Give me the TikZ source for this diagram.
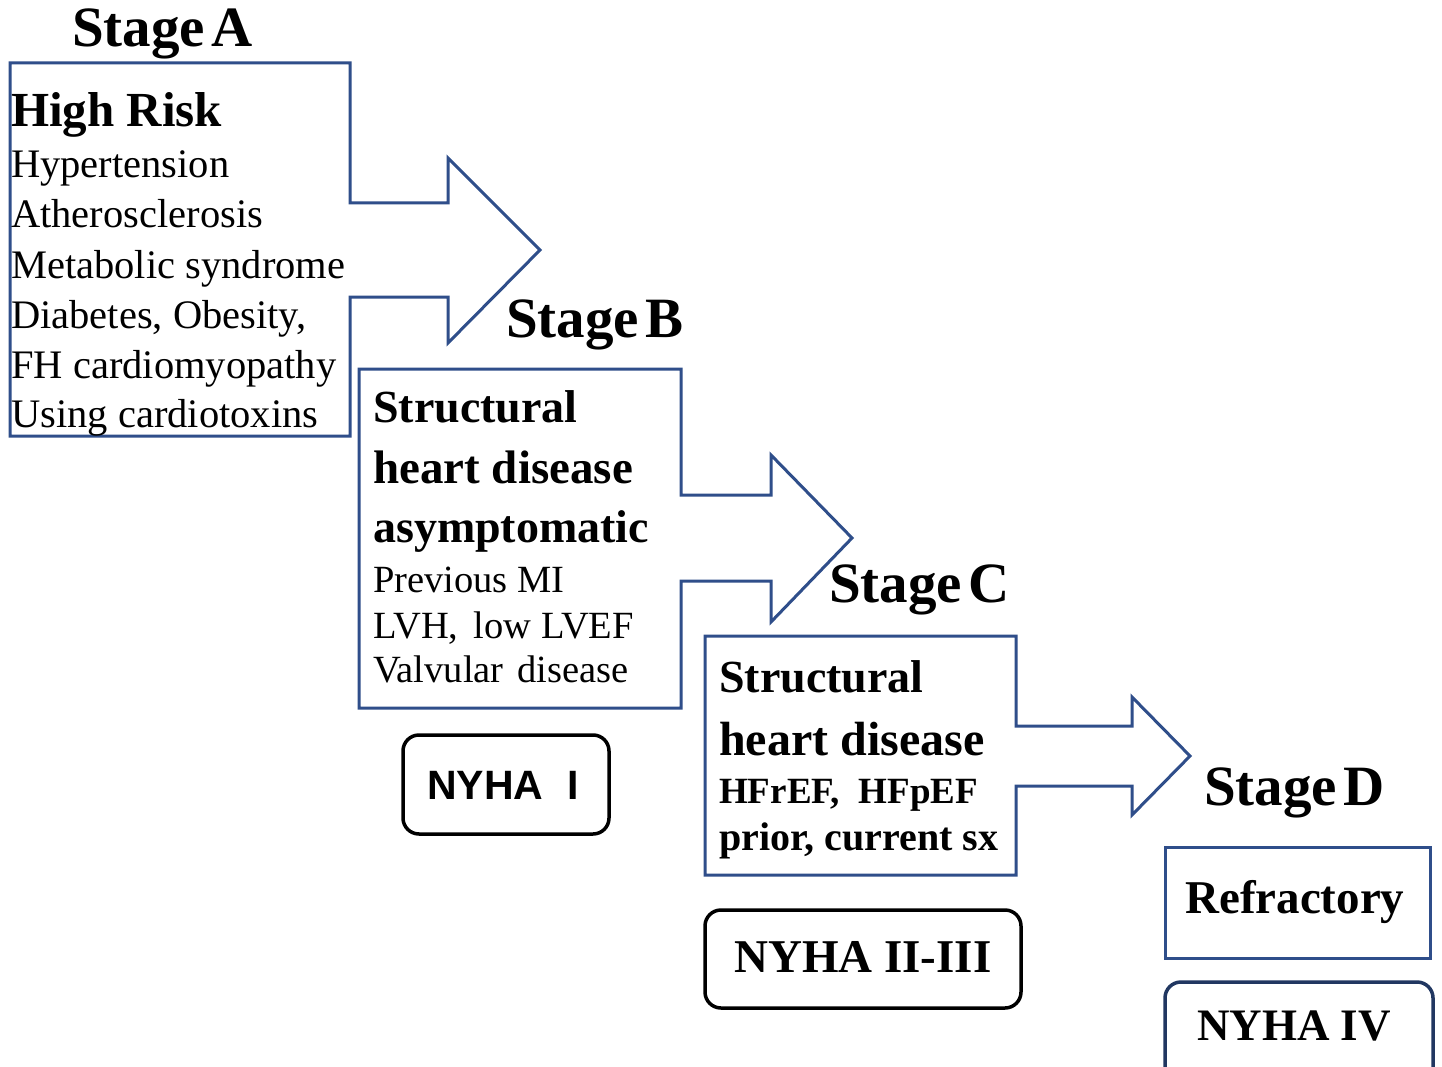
\documentclass[tikz,border=0pt]{standalone}
\usepackage{fontspec}
\setmainfont{Liberation Serif}
\newfontfamily\arialbold{Liberation Sans}[BoldFont={* Bold}]
\definecolor{boxblue}{RGB}{47,78,138}
\begin{document}
\begin{tikzpicture}[x=1pt,y=-1pt,
  stageshape/.style={draw=boxblue, line width=3pt, line join=miter},
  nyhabox/.style={draw=black, line width=3.5pt, rounded corners=16pt},
  stagelbl/.style={font=\fontsize{57}{57}\selectfont\bfseries, anchor=base west, inner sep=0pt},
  txt/.style={anchor=base west, inner sep=0pt},
]
\useasboundingbox (0,0) rectangle (1442,1067);
\clip (0,0) rectangle (1442,1067);
\fill[white] (0,0) rectangle (1442,1067);

% Stage A shape
\draw[stageshape] (10,63) -- (350,63) -- (350,203) -- (448,203) -- (448,158) -- (540,250)
  -- (448,343) -- (448,297) -- (350,297) -- (350,436) -- (10,436) -- cycle;
% Stage B shape
\draw[stageshape] (359,369) -- (681,369) -- (681,495) -- (771,495) -- (771,455) -- (852,538)
  -- (771,622) -- (771,581) -- (681,581) -- (681,708) -- (359,708) -- cycle;
% Stage C shape
\draw[stageshape] (705,636) -- (1016,636) -- (1016,726) -- (1132,726) -- (1132,697) -- (1190,756)
  -- (1132,815) -- (1132,786) -- (1016,786) -- (1016,875) -- (705,875) -- cycle;
% Stage D boxes
\draw[stageshape] (1165,847) rectangle (1430,958);
\draw[nyhabox, draw=boxblue!70!black] (1165,982) rectangle (1433,1100);
% NYHA boxes
\draw[nyhabox] (403,735) rectangle (609,834);
\draw[nyhabox] (705,910) rectangle (1021,1008);

% Stage labels
\node[stagelbl] (la) at (72,47) {Stage\hspace{0.12em}A};
\node[stagelbl] (lb) at (506,337) {Stage\hspace{0.12em}B};
\node[stagelbl] (lc) at (829,602) {Stage\hspace{0.12em}C};
\node[stagelbl] (ld) at (1204,805) {Stage\hspace{0.12em}D};

% Stage A text
\node[txt, font=\fontsize{49}{49}\selectfont\bfseries] (a0) at (11,127) {High Risk};
\begin{scope}[every node/.append style={txt, font=\fontsize{40.5}{40}\selectfont}]
\node (a1) at (11,178) {Hypertension};
\node (a2) at (11,228) {Atherosclerosis};
\node (a3) at (11,278) {Metabolic syndrome};
\node (a4) at (11,328) {Diabetes, Obesity,};
\node (a5) at (11,378) {FH cardiomyopathy};
\node (a6) at (11,427) {Using cardiotoxins};
\end{scope}

% Stage B text
\begin{scope}[every node/.append style={txt, font=\fontsize{46}{46}\selectfont\bfseries}]
\node (b1) at (373,422) {Structural};
\node[font=\fontsize{47}{47}\selectfont\bfseries] (b2) at (373,483) {heart disease};
\node (b3) at (373,542) {asymptomatic};
\end{scope}
\begin{scope}[every node/.append style={txt, font=\fontsize{38.5}{38}\selectfont}]
\node (b4) at (373,592) {Previous MI};
\node (b5) at (373,638) {LVH,\hspace{0.4em}low LVEF};
\node (b6) at (373,682) {Valvular\hspace{0.35em}disease};
\end{scope}

% Stage C text
\begin{scope}[every node/.append style={txt, font=\fontsize{46}{46}\selectfont\bfseries}]
\node (c1) at (719,692) {Structural};
\node[font=\fontsize{48}{48}\selectfont\bfseries] (c2) at (719,755) {heart disease};
\end{scope}
\node[txt, font=\fontsize{37}{37}\selectfont\bfseries] (c3) at (719,803) {HFrEF,\ \ HFpEF};
\node[txt, font=\fontsize{40}{40}\selectfont\bfseries] (c4) at (719,850) {prior, current sx};

% Stage D text
\node[txt, font=\fontsize{47}{47}\selectfont\bfseries] (d1) at (1185,913) {Refractory};
\node[txt, font=\fontsize{45}{45}\selectfont\bfseries] (d2) at (1197,1040) {NYHA IV};

% NYHA labels
\node[txt, font=\arialbold\fontsize{41}{41}\selectfont\bfseries] (n1) at (427,799) {NYHA\hspace{24pt}I};
\node[txt, font=\fontsize{47}{47}\selectfont\bfseries] (n2) at (734,972) {NYHA II-III};
\end{tikzpicture}
\end{document}
